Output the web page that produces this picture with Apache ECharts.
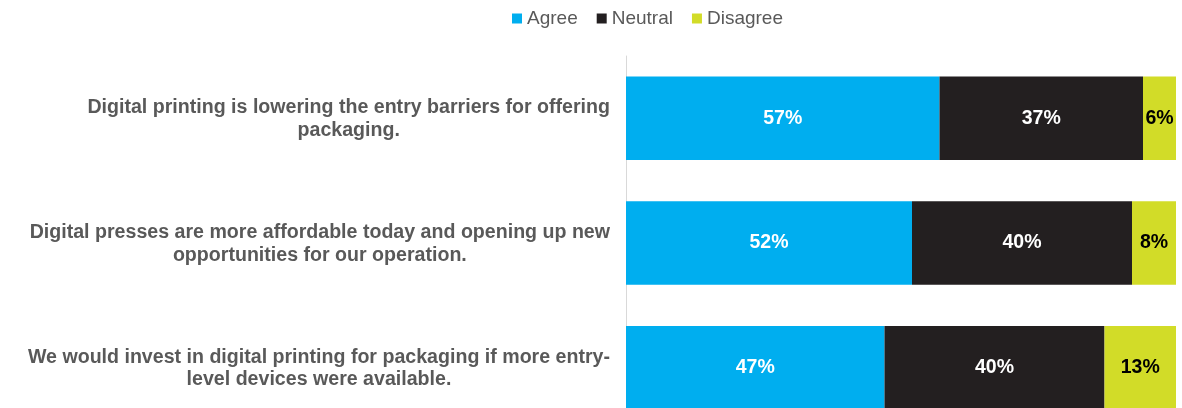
<!DOCTYPE html>
<html><head><meta charset="utf-8">
<style>html,body{margin:0;padding:0;background:#fff}#c{width:1182px;height:408px}</style>
<script src="https://cdn.jsdelivr.net/npm/echarts@6/dist/echarts.min.js"></script>
</head><body><div id="c"></div>
<script>
const categories = [
  "Digital printing is lowering the entry barriers for offering\npackaging.",
  "Digital presses are more affordable today and opening up new\nopportunities for our operation.",
  "We would invest in digital printing for packaging if more entry-\nlevel devices were available."
];
const agree = [57, 52, 47];
const neutral = [37, 40, 40];
const disagree = [6, 8, 13];
const seriesNames = ["Agree", "Neutral", "Disagree"];

const FONT = 'Liberation Sans, Arial, sans-serif';
const chart = echarts.init(document.getElementById('c'));
const lbl = (color) => ({show: true, position: 'inside', formatter: '{c}%', color: color,
  fontFamily: FONT, fontWeight: 'bold', fontSize: 19.5});
chart.setOption({
  animation: false,
  textStyle: {fontFamily: FONT},
  legend: {left: 507, top: 4, itemWidth: 10, itemHeight: 10, itemGap: 19, icon: 'rect',
    textStyle: {color: '#595959', fontSize: 19, fontFamily: FONT},
    data: seriesNames},
  grid: {left: 626, right: 6, top: 56, height: 374, containLabel: false, outerBoundsMode: 'none'},
  xAxis: {type: 'value', min: 0, max: 100, show: false},
  yAxis: {type: 'category', inverse: true, data: categories,
    axisLine: {show: true, lineStyle: {color: '#d9d9d9', width: 1}},
    axisTick: {show: false},
    axisLabel: {margin: 16, align: 'right',
      formatter: (v) => v.split('\n').map(s => '{c|' + s + '}').join('\n'),
      rich: {c: {align: 'center', color: '#595959', fontSize: 19.6, fontWeight: 'bold', lineHeight: 22.5,
        fontFamily: FONT, padding: [2, 0, 0, 0]}}}},
  series: [
    {name: seriesNames[0], type: 'bar', stack: 't', data: agree, barCategoryGap: '33%',
      itemStyle: {color: '#00AEEF'}, label: lbl('#ffffff')},
    {name: seriesNames[1], type: 'bar', stack: 't', data: neutral,
      itemStyle: {color: '#231F20'}, label: lbl('#ffffff')},
    {name: seriesNames[2], type: 'bar', stack: 't', data: disagree,
      itemStyle: {color: '#D2DC28'}, label: lbl('#000000')}
  ]
});
</script></body></html>
